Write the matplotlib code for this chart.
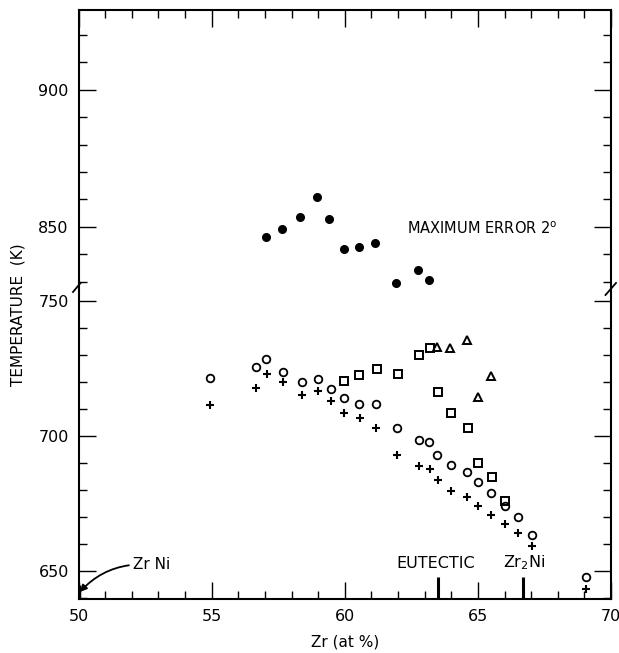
import matplotlib
matplotlib.use("Agg")
import matplotlib.pyplot as plt
from matplotlib.ticker import MultipleLocator
from matplotlib.lines import Line2D

# liquidus / solidus readings, Zr (at %) vs temperature (K)
zr_solid = [57.03, 57.64, 58.33, 58.97, 59.42, 59.96, 60.54, 61.15, 61.92, 62.74, 63.16]
t_solid = [846.2, 849.4, 853.5, 861.0, 852.8, 841.9, 842.7, 844.2, 829.6, 834.5, 830.8]

zr_circle = [54.95, 56.68, 57.06, 57.68, 58.40, 59.00, 59.49, 59.96, 60.54, 61.17, 61.98,
             62.78, 63.18, 63.48, 63.98, 64.60, 64.99, 65.51, 66.00, 66.51, 67.02, 69.05]
t_circle = [721.6, 725.8, 728.5, 723.9, 720.2, 721.1, 717.6, 714.1, 711.8, 711.8, 703.2,
            698.5, 697.8, 693.2, 689.4, 686.8, 683.1, 679.0, 674.0, 670.0, 663.3, 647.7]

zr_plus = [54.95, 56.68, 57.08, 57.69, 58.38, 59.00, 59.49, 59.96, 60.56, 61.19, 61.98,
           62.79, 63.20, 63.52, 63.98, 64.61, 64.99, 65.51, 66.02, 66.51, 67.02, 69.05]
t_plus = [711.5, 718.0, 722.9, 720.2, 715.4, 716.6, 713.2, 708.4, 706.8, 703.1, 693.2,
          688.8, 688.0, 683.6, 679.7, 677.6, 674.0, 670.7, 667.6, 664.2, 659.5, 643.3]

zr_square = [59.96, 60.55, 61.20, 61.99, 62.77, 63.20, 63.50, 63.98, 64.62, 64.99, 65.53, 66.00]
t_square = [720.6, 722.5, 724.8, 722.9, 730.1, 732.7, 716.2, 708.4, 703.1, 690.0, 684.8, 676.0]

zr_tri = [63.48, 63.96, 64.59, 64.99, 65.51]
t_tri = [733.1, 732.5, 735.7, 714.6, 722.1]

# compositions marked on the Zr axis
phase_zr = [50.0, 63.5, 66.7]
phase_names = ["Zr Ni", "EUTECTIC", "Zr$_2$Ni"]

plt.rcParams["font.family"] = "DejaVu Sans"

W, H = 619, 653
fig = plt.figure(figsize=(W / 100, H / 100), dpi=100)

left, right = 78.5, 611
top, brk, bottom = 10, 289, 599
ax_hi = fig.add_axes([left / W, 1 - brk / H, (right - left) / W, (brk - top) / H])
ax_lo = fig.add_axes([left / W, 1 - bottom / H, (right - left) / W, (bottom - brk) / H],
                     sharex=ax_hi)

ax_hi.set_ylim(827.4, 929)
ax_lo.set_ylim(639.7, 754.5)
ax_lo.set_xlim(50, 70)

for ax in (ax_hi, ax_lo):
    ax.xaxis.set_major_locator(MultipleLocator(5))
    ax.xaxis.set_minor_locator(MultipleLocator(1))
    ax.yaxis.set_major_locator(MultipleLocator(50))
    ax.yaxis.set_minor_locator(MultipleLocator(10))
    ax.tick_params(which="both", direction="in", left=True, right=True, width=1.0,
                   labelsize=11.5, pad=7)
    ax.tick_params(which="major", length=12)
    ax.tick_params(which="minor", length=6)
    for s in ax.spines.values():
        s.set_linewidth(1.5)

ax_hi.spines["bottom"].set_visible(False)
ax_lo.spines["top"].set_visible(False)
ax_hi.tick_params(axis="x", which="both", bottom=False, top=True,
                  labelbottom=False, labeltop=False)
ax_lo.tick_params(axis="x", which="both", bottom=True, top=False)
ax_hi.set_yticks([850, 900])
ax_lo.set_yticks([650, 700, 750])

# data
ax_hi.plot(zr_solid, t_solid, "o", color="black", ms=5.5, ls="none")
ax_lo.plot(zr_circle, t_circle, "o", mfc="white", mec="black", mew=1.3, ms=5.5, ls="none")
ax_lo.plot(zr_plus, t_plus, "+", color="black", mew=1.5, ms=6, ls="none")
ax_lo.plot(zr_square, t_square, "s", mfc="none", mec="black", mew=1.4, ms=5.5, ls="none")
ax_lo.plot(zr_tri, t_tri, "^", mfc="none", mec="black", mew=1.4, ms=5.5, ls="none")

# phase markers on the composition axis
ax_lo.vlines(phase_zr[0], 639.7, 645, color="black", lw=2.5)
ax_lo.vlines(phase_zr[1:], 639.7, 648, color="black", lw=2.2)
ax_lo.text(phase_zr[1] - 0.08, 652.9, phase_names[1], ha="center", va="center", fontsize=11.5)
ax_lo.text(phase_zr[2] + 0.05, 653.2, phase_names[2], ha="center", va="center", fontsize=11.5)
ax_lo.annotate(phase_names[0], xy=(phase_zr[0] + 0.05, 642.3), xytext=(52.05, 652.3),
               ha="left", va="center", fontsize=11,
               arrowprops=dict(arrowstyle="-|>", color="black", lw=1.3,
                               connectionstyle="arc3,rad=0.25", shrinkA=1, shrinkB=0,
                               mutation_scale=10))

ax_hi.text(62.32, 849.5, "MAXIMUM ERROR 2$^{\\mathrm{o}}$", ha="left", va="center",
           fontsize=10.5)

# axis break marks
def px_line(xs, ys):
    fig.add_artist(Line2D([x / W for x in xs], [1 - y / H for y in ys],
                          color="black", lw=1.3))

px_line([73, 80.5], [292, 283])
px_line([605.5, 616], [295, 283])

fig.text(18 / W, 1 - 315 / H, "TEMPERATURE  (K)", rotation=90, ha="center", va="center",
         fontsize=11)
fig.text(345 / W, 1 - 642 / H, "Zr (at %)", ha="center", va="center", fontsize=11)

fig.savefig("out.png", dpi=100)
